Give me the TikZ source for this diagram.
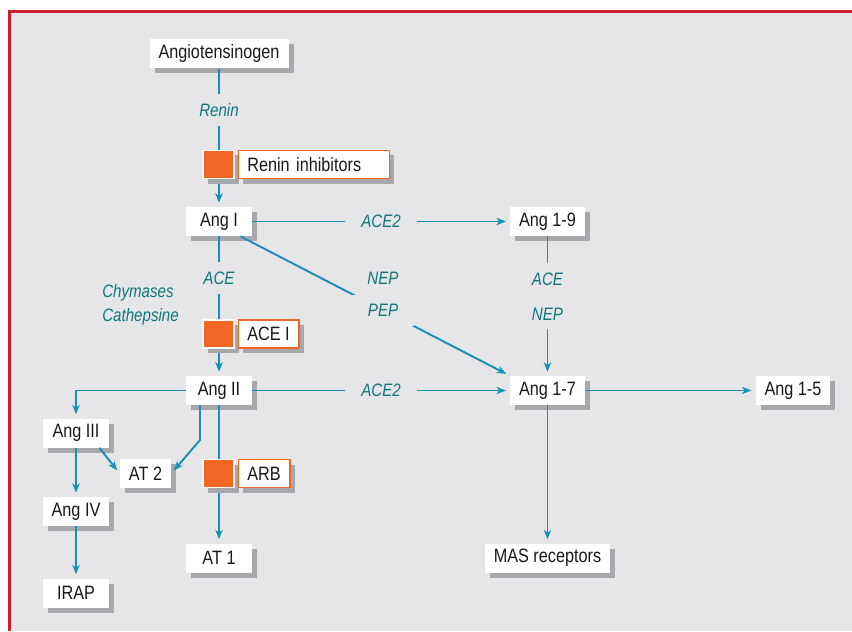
\documentclass[tikz,border=0pt]{standalone}
\usepackage{fontspec}
\setmainfont{Liberation Sans}[FakeStretch=0.84]
\usetikzlibrary{arrows.meta,positioning,shadows}
\definecolor{bg}{RGB}{230,230,233}
\definecolor{frm}{RGB}{204,32,48}
\definecolor{flw}{RGB}{24,143,181}
\definecolor{enzc}{RGB}{16,118,124}
\definecolor{inh}{RGB}{242,102,36}
\definecolor{shd}{RGB}{168,168,172}
\tikzset{
  pbox/.style={rectangle,fill=white,inner xsep=6.75pt,inner ysep=0pt,minimum height=21.75pt,
    font=\fontsize{14.5}{17}\selectfont,text=black!90,
    drop shadow={shadow xshift=3.75pt,shadow yshift=-3.75pt,fill=shd,opacity=1}},
  pboxw/.style={pbox,minimum width=49.5pt},  % fixed-width peptide boxes
  flow/.style={-{Stealth[length=7pt,width=5.5pt,inset=2pt]},line width=1.45pt,draw=flw,shorten >=3pt},
  enz/.style={font=\fontsize{13.5}{16}\selectfont\itshape,text=enzc,inner sep=0pt},
  enzgap/.style={enz,fill=bg,inner xsep=12pt,inner ysep=7pt},
  % inhibitor: orange square + framed label
  inhsq/.style={rectangle,fill=inh,draw=white,line width=0.8pt,minimum width=23.25pt,minimum height=21pt,inner sep=0pt,
    drop shadow={shadow xshift=3.75pt,shadow yshift=-3.75pt,fill=shd,opacity=1}},
  inhbox/.style={rectangle,fill=white,draw=inh,line width=1.2pt,minimum height=21pt,inner xsep=6.75pt,inner ysep=0pt,
    font=\fontsize{14.5}{17}\selectfont,text=black!90,
    drop shadow={shadow xshift=3.75pt,shadow yshift=-3.75pt,fill=shd,opacity=1}},
}
\begin{document}
\begin{tikzpicture}[x=0.75pt,y=-0.75pt]
\useasboundingbox (0,0) rectangle (852,631);
% Frame
\fill[bg] (10,12) rectangle (852,631);
\draw[frm,line width=2.25pt] (852,11.5) -| (9.5,631);

% --- Peptides ---
\node[pbox] (ag) at (219,54) {Angiotensinogen};
\node[pboxw] (a1) at (219,221.5) {Ang I};
\node[pbox] (a19) at (547.5,221.5) {Ang 1-9};
\node[pboxw] (a2) at (219,390.5) {Ang II};
\node[pbox] (a17) at (547.5,390.5) {Ang 1-7};
\node[pbox] (a15) at (793,390.5) {Ang 1-5};
\node[pboxw] (a3) at (76,433) {Ang III};
\node[pbox] (at2) at (145.5,473.5) {AT 2};
\node[pboxw] (a4) at (76,511.5) {Ang IV};
\node[pboxw] (at1) at (219,558) {AT 1};
\node[pboxw] (irap) at (76,593) {IRAP};
\node[pbox] (mas) at (547.5,558) {MAS receptors};

% --- Enzymatic steps ---
\draw[flow] (ag) -- node[enzgap,pos=0.3] (renin) {Renin} (a1);
\draw[flow] (a1) -- node[enzgap] (ace2a) {ACE2} (a19);
\draw[flow] (a1) -- node[enzgap,pos=0.3] (acea) {ACE} (a2);
\node[enz,align=left,anchor=west,font=\fontsize{13.5}{18}\selectfont\itshape] (chy) at (102,305) {Chymases\\Cathepsine};
\draw[flow] (a19) -- node[enzgap,pos=0.43,align=center,font=\fontsize{13.5}{26.25}\selectfont\itshape] (aceb) {ACE\\NEP} (a17);
\draw[flow] ([xshift=-9pt]a1.south east) -- node[enzgap,pos=0.53] (pep) {PEP} (a17.north west);
\node[enz] (nep) at (383,278) {NEP};
\draw[flow] (a2) -- node[enzgap] (ace2b) {ACE2} (a17);
\draw[flow] (a17) -- (a15);
\draw[flow] (a17) -- (mas);

% --- Ang II branch ---
\draw[flow] (a2) -| (a3);
\draw[flow] (a3) -- (a4);
\draw[flow] (a4) -- (irap);
\draw[flow] (a2) -- (at1);
\coordinate (knee) at (200,440);
\draw[flow] (a2.south -| knee) -- (knee) -- (at2.east);
\draw[flow] ([xshift=-7.5pt]a3.south east) -- (at2.west);

% --- Inhibitors (on top of the arrows) ---
\node[inhsq] (ri) at (218.5,164.5) {};
\node[inhbox,right=2.25pt of ri,text width=99.75pt,align=left] (rit) {Renin inhibitors};
\node[inhsq] (ai) at (218.5,334) {};
\node[inhbox,right=2.25pt of ai] (ait) {ACE I};
\node[inhsq] (arb) at (218.5,473.5) {};
\node[inhbox,right=2.25pt of arb] (arbt) {ARB};
\end{tikzpicture}
\end{document}
